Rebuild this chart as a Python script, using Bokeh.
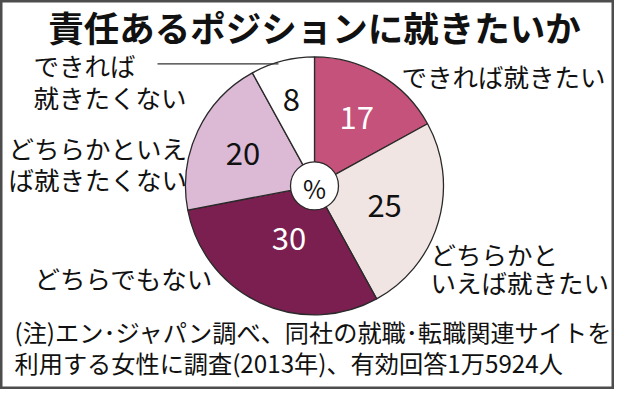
import numpy as np
from bokeh.plotting import figure
from bokeh.models import Range1d
from bokeh.core.properties import value
from bokeh.embed import file_html
from bokeh.resources import INLINE

# ---- data ----
categories = ["できれば就きたい", "どちらかといえば就きたい", "どちらでもない",
              "どちらかといえば就きたくない", "できれば就きたくない"]
values = [17, 25, 30, 20, 8]
colors = ["#c4527a", "#f1e5e3", "#7a1f50", "#dcb9d5", "#ffffff"]
value_colors = ["#ffffff", "#111111", "#ffffff", "#111111", "#111111"]
label_lines = [["できれば就きたい"], ["どちらかと", "いえば就きたい"], ["どちらでもない"],
               ["どちらかといえ", "ば就きたくない"], ["できれば", "就きたくない"]]
title_text = "責任あるポジションに就きたいか"
note_lines = ["(注)エン･ジャパン調べ、同社の就職･転職関連サイトを",
              "利用する女性に調査(2013年)、有効回答1万5924人"]

# ---- layout (x in reference pixels, y in reference pixels from top) ----
FW, FH = 614, 389
W, H = 614, 405
cx, cy = 314, 193
R = 129
label_r = [83, 73, 60, 79, 93]
label_pos = [[(401, 78)], [(430, 263), (430, 293)], [(34, 288)],
             [(8, 153), (8, 185)], [(33, 67), (33, 100)]]
FONT = "Noto Sans CJK JP"


def Y(v):
    return H - v


p = figure(width=FW, height=FH, x_range=Range1d(0, W), y_range=Range1d(0, H),
           x_axis_type=None, y_axis_type=None, output_backend="svg",
           toolbar_location=None, min_border=0)
p.grid.visible = False
p.background_fill_color = "#ffffff"
p.border_fill_color = "#ffffff"
p.outline_line_color = "#4d4d4d"
p.outline_line_width = 4

vals = np.array(values, dtype=float)
cum = np.cumsum(vals)
tot = vals.sum()
start = np.pi / 2 - 2 * np.pi * (cum - vals) / tot
end = np.pi / 2 - 2 * np.pi * cum / tot
mid = (start + end) / 2

p.wedge(x=cx, y=Y(cy), radius=R, radius_units="screen",
        start_angle=start, end_angle=end, direction="clock",
        fill_color=colors, line_color="#2a2a2a", line_width=1.3)

# centre disc
p.scatter(x=[cx], y=[Y(cy)], marker="circle", size=48,
          fill_color="#ffffff", line_color="#2a2a2a", line_width=1.3)
p.text(x=[cx], y=[Y(cy + 2)], text=["%"], text_font=value(FONT),
       text_font_size="25px", text_align="center", text_baseline="middle",
       text_color="#111111")

# values
lx = cx + np.array(label_r) * np.cos(mid)
ly = Y(cy) + np.array(label_r) * np.sin(mid)
p.text(x=lx, y=ly, text=[str(v) for v in values], text_font=value(FONT),
       text_font_size="31px", text_align="center", text_baseline="middle",
       text_color=value_colors)

# category labels
tx, ty, tt = [], [], []
for lines, pos in zip(label_lines, label_pos):
    for t, (x, y) in zip(lines, pos):
        tx.append(x)
        ty.append(Y(y))
        tt.append(t)
p.text(x=tx, y=ty, text=tt, text_font=value(FONT), text_font_size="25.5px",
       text_align="left", text_baseline="middle", text_color="#111111")

# leader line for the small slice
p.segment(x0=[157], y0=[Y(66)], x1=[278], y1=[Y(66)], line_color="#333333",
          line_width=1.2)

# title
p.text(x=[314], y=[Y(27)], text=[title_text], text_font=value(FONT),
       text_font_size="35.5px", text_font_style="bold", text_align="center",
       text_baseline="middle", text_color="#111111")

# notes
p.text(x=[14, 14], y=[Y(345), Y(377)], text=note_lines, text_font=value(FONT),
       text_font_size="24.2px", text_align="left", text_baseline="middle",
       text_color="#111111")

open("out.html", "w").write(file_html(p, INLINE))
